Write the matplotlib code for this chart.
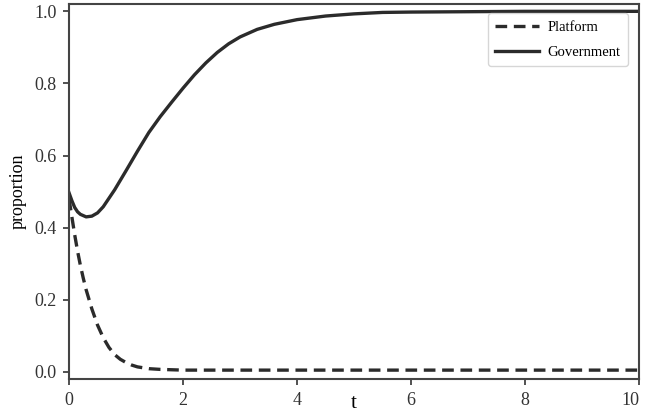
import matplotlib
matplotlib.use("Agg")
import matplotlib.pyplot as plt

plt.rcParams['font.family'] = ['Liberation Serif', 'DejaVu Serif']

t_gov = [0.0, 0.05, 0.1, 0.15, 0.2, 0.3, 0.4, 0.5, 0.6, 0.8, 1.0, 1.2, 1.4, 1.6, 1.8, 2.0,
         2.2, 2.4, 2.6, 2.8, 3.0, 3.3, 3.6, 4.0, 4.5, 5.0, 5.5, 6.0, 7.0, 8.0, 9.0, 10.0]
government = [0.497, 0.475, 0.456, 0.444, 0.437, 0.430, 0.432, 0.441, 0.458, 0.505, 0.558, 0.612,
              0.664, 0.708, 0.748, 0.787, 0.824, 0.857, 0.886, 0.910, 0.929, 0.950, 0.964, 0.977,
              0.987, 0.993, 0.997, 0.998, 0.999, 1.0, 1.0, 1.0]

t_plat = [0.0, 0.05, 0.1, 0.15, 0.2, 0.25, 0.3, 0.4, 0.5, 0.6, 0.7, 0.8, 0.9, 1.0, 1.1, 1.2,
          1.4, 1.6, 1.8, 2.0, 3.0, 4.0, 6.0, 8.0, 10.0]
platform = [0.48, 0.43, 0.38, 0.335, 0.295, 0.26, 0.228, 0.175, 0.13, 0.095, 0.068, 0.048,
            0.035, 0.026, 0.019, 0.014, 0.009, 0.007, 0.006, 0.005, 0.005, 0.005, 0.005, 0.005, 0.005]

x_ticks = [0, 2, 4, 6, 8, 10]
y_ticks = [0.0, 0.2, 0.4, 0.6, 0.8, 1.0]
y_tick_labels = ['0.0', '0.2', '0.4', '0.6', '0.8', '1.0']

fig = plt.figure(figsize=(6.45, 4.13), dpi=100)
ax = fig.add_axes([0.107, 0.082, 0.884, 0.908])

ax.plot(t_plat, platform, linestyle=(0, (3.5, 2)), color='#2b2b2b', linewidth=2.4, label='Platform')
ax.plot(t_gov, government, linestyle='-', color='#2b2b2b', linewidth=2.4, label='Government')

ax.set_xlim(0, 10)
ax.set_ylim(-0.02, 1.02)
ax.set_xticks(x_ticks)
ax.set_yticks(y_ticks)
ax.set_yticklabels(y_tick_labels)
ax.tick_params(direction='out', length=4, width=1.2, labelsize=13, colors='#333333', pad=5)
for s in ax.spines.values():
    s.set_linewidth(1.5)
    s.set_color('#444444')
fig.canvas.draw()
ax.get_xticklabels()[-1].set_horizontalalignment('right')

ax.set_xlabel('t', fontsize=15)
ax.xaxis.set_label_coords(0.5, -0.04, transform=ax.transAxes)
ax.xaxis.label.set_va('top')
ax.set_ylabel('proportion', fontsize=13)
ax.yaxis.set_label_coords(-0.075, 0.5, transform=ax.transAxes)

leg = ax.legend(loc='upper right', fontsize=10.5, frameon=True, fancybox=True,
                handlelength=3.0, handletextpad=0.6, borderpad=0.5, labelspacing=0.8,
                bbox_to_anchor=(0.993, 0.995))
leg.get_frame().set_edgecolor('#cccccc')

fig.savefig('out.png', dpi=100)
